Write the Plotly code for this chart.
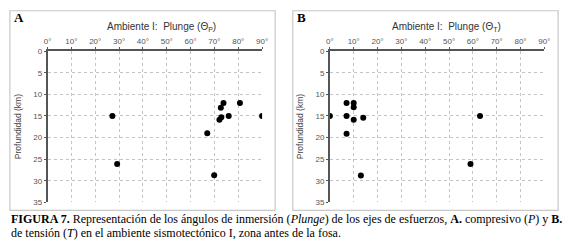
import plotly.graph_objects as go

# Panel A: plunge of P axes
plunge_p = [27.2, 29.2, 73.8, 80.7, 72.7, 76.0, 90.0, 72.9, 72.1, 67.0, 69.9]
depth_p = [15.0, 26.1, 12.0, 12.0, 13.1, 15.0, 15.0, 15.3, 15.9, 19.0, 28.75]

# Panel B: plunge of T axes
plunge_t = [0.0, 7.0, 10.0, 10.0, 7.0, 10.0, 14.0, 7.0, 13.0, 59.0, 63.0]
depth_t = [15.0, 12.0, 12.0, 13.0, 15.0, 15.9, 15.4, 19.1, 28.8, 26.1, 15.0]

x_ticks = [0, 10, 20, 30, 40, 50, 60, 70, 80, 90]
y_ticks = [0, 5, 10, 15, 20, 25, 30, 35]

W, H = 570, 250
def px(x):
    return x / W
def py(y):
    return 1 - y / H

fig = go.Figure()
fig.add_trace(go.Scatter(x=plunge_p, y=depth_p, mode="markers",
                         marker=dict(color="black", size=6), xaxis="x", yaxis="y",
                         showlegend=False))
fig.add_trace(go.Scatter(x=plunge_t, y=depth_t, mode="markers",
                         marker=dict(color="black", size=6), xaxis="x2", yaxis="y2",
                         showlegend=False))

tickfont = dict(family="Liberation Sans", size=8, color="#555555")
def xax(domain, anchor):
    return dict(domain=domain, anchor=anchor, side="top", range=[0, 90],
                tickvals=x_ticks, ticktext=[f"{v}°" for v in x_ticks],
                showgrid=True, gridcolor="#c4c4c4", griddash="dot", gridwidth=1,
                showline=True, linecolor="#555555", linewidth=1.5,
                ticks="outside", ticklen=2, tickcolor="#555555", tickwidth=1,
                tickfont=tickfont, zeroline=False, fixedrange=True)
def yax(domain, anchor):
    return dict(domain=domain, anchor=anchor, range=[35, 0],
                tickvals=y_ticks, showgrid=True, gridcolor="#c4c4c4", griddash="dot",
                gridwidth=1, showline=True, linecolor="#555555", linewidth=1.5,
                ticks="outside", ticklen=2, tickcolor="#555555", tickwidth=1,
                tickfont=tickfont, zeroline=False, fixedrange=True)

ydom = [py(205.7), py(49)]
fig.update_layout(
    width=W, height=H, margin=dict(l=0, r=0, t=0, b=0),
    paper_bgcolor="white", plot_bgcolor="white",
    xaxis=xax([px(44.3), px(262.7)], "y"),
    yaxis=yax(ydom, "x"),
    xaxis2=xax([px(331.7), px(550)], "y2"),
    yaxis2=yax(ydom, "x2"),
)

shapes = []
for x0, x1 in [(6, 276), (294, 564)]:
    shapes.append(dict(type="rect", xref="paper", yref="paper",
                       x0=px(x0), x1=px(x1), y0=py(214), y1=py(7),
                       line=dict(color="#c8c8c8", width=1.2)))
fig.update_layout(shapes=shapes)

ann = []
ann.append(dict(text="<b>A</b>", x=px(8), y=py(14), xanchor="left", yanchor="middle",
                font=dict(family="Liberation Serif", size=13, color="black")))
ann.append(dict(text="<b>B</b>", x=px(296), y=py(14), xanchor="left", yanchor="middle",
                font=dict(family="Liberation Serif", size=13, color="black")))
ann.append(dict(text="Ambiente I:  Plunge (Θ<sub>P</sub>)", x=px(160), y=py(24),
                xanchor="center", yanchor="middle",
                font=dict(family="Liberation Sans", size=10, color="#333333")))
ann.append(dict(text="Ambiente I:  Plunge (Θ<sub>T</sub>)", x=px(450), y=py(24),
                xanchor="center", yanchor="middle",
                font=dict(family="Liberation Sans", size=10, color="#333333")))
for xc in (15, 302):
    ann.append(dict(text="Profundidad (km)", x=px(xc), y=py(127), textangle=-90,
                    xanchor="center", yanchor="middle",
                    font=dict(family="Liberation Sans", size=8.5, color="#444444")))
ann.append(dict(text="<b>FIGURA 7.</b> Representación de los ángulos de inmersión (<i>Plunge</i>) de los ejes de esfuerzos, <b>A.</b> compresivo (<i>P</i>) y <b>B.</b>",
                x=px(5), y=py(223), xanchor="left", yanchor="middle",
                font=dict(family="Liberation Serif", size=12, color="black")))
ann.append(dict(text="de tensión (<i>T</i>) en el ambiente sismotectónico I, zona antes de la fosa.",
                x=px(5), y=py(238), xanchor="left", yanchor="middle",
                font=dict(family="Liberation Serif", size=12, color="black")))
for a in ann:
    a.update(xref="paper", yref="paper", showarrow=False)
fig.update_layout(annotations=ann)

fig.write_html("out.html", config={"displayModeBar": False},
               post_script="document.body.style.margin='0';")
